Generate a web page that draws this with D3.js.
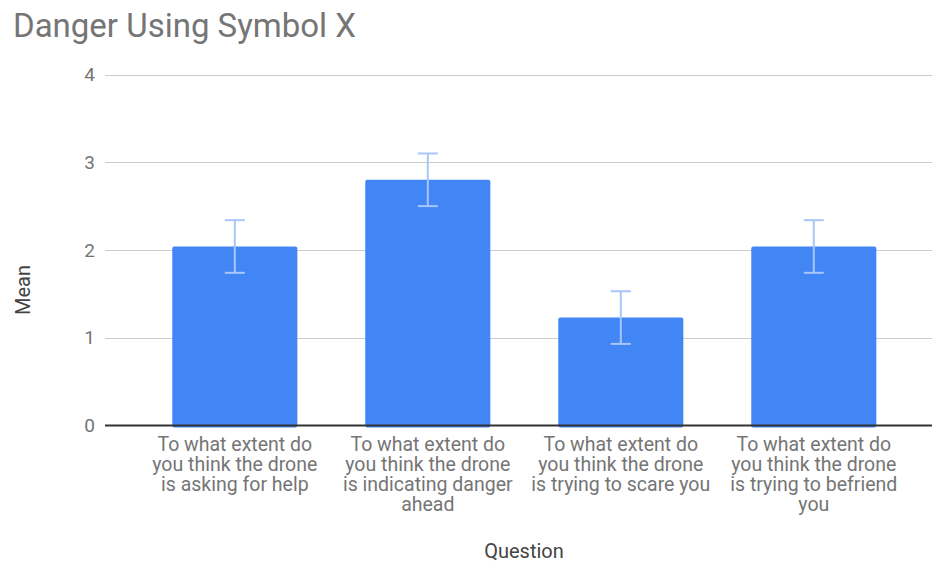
<!DOCTYPE html>
<html>
<head>
<meta charset="utf-8">
<script src="https://cdn.jsdelivr.net/npm/d3@7"></script>
<style>
  html, body { margin: 0; padding: 0; background: #fff; }
  svg { display: block; font-family: Roboto, "Noto Sans", sans-serif; }
</style>
</head>
<body>
<svg id="chart" width="933" height="563"></svg>
<script>
const categories = [
  "To what extent do\nyou think the drone\nis asking for help",
  "To what extent do\nyou think the drone\nis indicating danger\nahead",
  "To what extent do\nyou think the drone\nis trying to scare you",
  "To what extent do\nyou think the drone\nis trying to befriend\nyou"
];
const means = [2.04, 2.80, 1.23, 2.04];
const errors = [0.30, 0.30, 0.30, 0.30];
const yTicks = [0, 1, 2, 3, 4];

const svg = d3.select("#chart");
const textColor = "#757575";

const plotLeft = 105, plotRight = 932;
const y = d3.scaleLinear().domain([0, 4]).range([425.5, 74.5]);
const x = d3.scaleBand().domain(categories).range([138.3, 910.3])
  .paddingInner(0.352).paddingOuter(0.176);

// Title
svg.append("text").attr("x", 13).attr("y", 37)
  .attr("font-size", 33).attr("fill", textColor)
  .text("Danger Using Symbol X");

// Gridlines
const grid = svg.append("g");
grid.selectAll("line").data(yTicks.filter(d => d !== 0)).join("line")
  .attr("x1", plotLeft).attr("x2", plotRight)
  .attr("y1", d => Math.round(y(d)) + 0.5).attr("y2", d => Math.round(y(d)) + 0.5)
  .attr("stroke", "#cccccc").attr("stroke-width", 1);

// Y axis tick labels
const yAxis = d3.axisLeft(y).tickValues(yTicks).tickSize(0).tickPadding(0).tickFormat(d3.format("d"));
const yg = svg.append("g").attr("transform", "translate(95,0)").call(yAxis);
yg.select(".domain").remove();
yg.selectAll("text").attr("font-size", 19).attr("fill", textColor)
  .attr("font-family", "Roboto, sans-serif");

// Bars
svg.append("g").selectAll("rect").data(categories).join("rect")
  .attr("x", d => x(d))
  .attr("width", x.bandwidth())
  .attr("y", (d, i) => y(means[i]))
  .attr("height", (d, i) => y(0) - y(means[i]) + 2)
  .attr("rx", 2).attr("ry", 2)
  .attr("fill", "#4285f4");

// Baseline
svg.append("line").attr("x1", plotLeft).attr("x2", plotRight)
  .attr("y1", y(0)).attr("y2", y(0))
  .attr("stroke", "#333333").attr("stroke-width", 2);

// Error bars
const eb = svg.append("g").attr("stroke", "#a7c6fa").attr("stroke-width", 2).attr("fill", "none");
categories.forEach((c, i) => {
  const cx = x(c) + x.bandwidth() / 2;
  const top = y(means[i] + errors[i]);
  const bot = y(means[i] - errors[i]);
  eb.append("line").attr("x1", cx).attr("x2", cx).attr("y1", top).attr("y2", bot);
  eb.append("line").attr("x1", cx - 10).attr("x2", cx + 10).attr("y1", top).attr("y2", top);
  eb.append("line").attr("x1", cx - 10).attr("x2", cx + 10).attr("y1", bot).attr("y2", bot);
});

// X axis labels
const xg = svg.append("g");
categories.forEach(c => {
  const cx = x(c) + x.bandwidth() / 2;
  const t = xg.append("text").attr("text-anchor", "middle")
    .attr("font-size", 19.5).attr("fill", textColor);
  c.split("\n").forEach((l, k) => {
    t.append("tspan").attr("x", cx).attr("y", 451 + k * 20).text(l);
  });
});

// Axis titles
svg.append("text").attr("x", 524).attr("y", 558).attr("text-anchor", "middle")
  .attr("font-size", 20).attr("fill", "#444").text("Question");
svg.append("text").attr("transform", "translate(30,290) rotate(-90)")
  .attr("text-anchor", "middle").attr("font-size", 20).attr("fill", "#444").text("Mean");
</script>
</body>
</html>
